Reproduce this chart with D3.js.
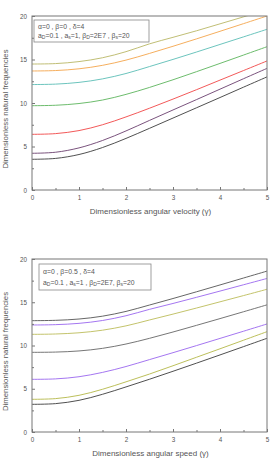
<!DOCTYPE html>
<html>
<head>
<meta charset="utf-8">
<script src="https://cdn.jsdelivr.net/npm/d3@7"></script>
<style>
  body { margin: 0; background: #fff; }
  svg { display: block; font-family: "Liberation Sans", Arial, sans-serif; }
</style>
</head>
<body>
<svg id="chart" width="276" height="459"></svg>
<script>
// gamma values shared by every curve
const gamma = [0, 0.5, 1, 1.5, 2, 2.5, 3, 3.5, 4, 4.5, 5];

// upper panel: alpha=0, beta=0, delta=4
const topOlive  = [14.48, 14.53, 14.76, 15.2, 15.9, 16.8, 17.55, 18.3, 19.1, 19.9, 20.7];
const topOrange = [13.68, 13.73, 13.93, 14.33, 14.93, 15.7, 16.52, 17.37, 18.24, 19.12, 20.0];
const topTeal   = [12.12, 12.17, 12.37, 12.77, 13.39, 14.19, 15.01, 15.86, 16.73, 17.6, 18.47];
const topGreen  = [9.69, 9.74, 9.94, 10.34, 10.99, 11.79, 12.67, 13.6, 14.55, 15.51, 16.47];
const topRed    = [6.4, 6.48, 6.83, 7.5, 8.4, 9.4, 10.45, 11.53, 12.63, 13.73, 14.83];
const topPurple = [4.22, 4.34, 4.84, 5.69, 6.79, 8.0, 9.2, 10.39, 11.59, 12.79, 13.98];
const topBlack  = [3.53, 3.63, 4.08, 4.88, 5.93, 7.09, 8.27, 9.45, 10.63, 11.82, 13.0];

// lower panel: alpha=0, beta=0.5, delta=4
const botBlack1  = [12.87, 12.91, 13.06, 13.39, 13.94, 14.68, 15.43, 16.21, 17.0, 17.8, 18.6];
const botPurple2 = [12.37, 12.41, 12.56, 12.89, 13.44, 14.18, 14.86, 15.57, 16.29, 17.02, 17.75];
const botOlive3  = [11.29, 11.33, 11.47, 11.77, 12.27, 12.95, 13.63, 14.33, 15.05, 15.77, 16.5];
const botGray4   = [9.21, 9.24, 9.37, 9.67, 10.17, 10.83, 11.56, 12.33, 13.11, 13.9, 14.7];
const botPurple5 = [6.09, 6.14, 6.39, 6.89, 7.57, 8.37, 9.17, 9.99, 10.82, 11.65, 12.49];
const botOlive6  = [3.78, 3.86, 4.24, 4.94, 5.8, 6.7, 7.66, 8.64, 9.62, 10.61, 11.6];
const botBlack7  = [3.2, 3.28, 3.66, 4.36, 5.21, 6.1, 7.02, 7.96, 8.91, 9.87, 10.83];

const yTicks = [0, 5, 10, 15, 20];

const topColors = ["#b9b765", "#f4a54c", "#5bbdb5", "#5cb45c", "#f04646", "#6b3f6e", "#3c3c3c"];
const botColors = ["#555555", "#9a66ee", "#bcbc5a", "#666666", "#9a66ee", "#b4b848", "#3c3c3c"];

const panels = [
  { top: 16, bottom: 190, series: [topOlive, topOrange, topTeal, topGreen, topRed, topPurple, topBlack],
    colors: topColors, xTitle: "Dimensionless angular velocity (\u03b3)",
    legend: { x: 34, y: 20, w: 115, h: 22, beta: "0" } },
  { top: 259, bottom: 432, series: [botBlack1, botPurple2, botOlive3, botGray4, botPurple5, botOlive6, botBlack7],
    colors: botColors, xTitle: "Dimensionless angular speed (\u03b3)",
    legend: { x: 39, y: 264, w: 112, h: 26, beta: "0.5" } }
];

const svg = d3.select("#chart");
const left = 32, right = 267;
const textColor = "#555";

const x = d3.scaleLinear().domain([0, 5]).range([left, right]);

panels.forEach((p, pi) => {
  const y = d3.scaleLinear().domain([0, 20]).range([p.bottom, p.top]);
  const g = svg.append("g");

  // clip so curves stop at the frame
  g.append("clipPath").attr("id", "clip" + pi)
    .append("rect").attr("x", left).attr("y", p.top)
    .attr("width", right - left).attr("height", p.bottom - p.top);

  const line = d3.line()
    .x((d, i) => x(gamma[i]))
    .y(d => y(d))
    .curve(d3.curveCatmullRom.alpha(0.5));

  g.append("g").attr("clip-path", "url(#clip" + pi + ")")
    .selectAll("path")
    .data(p.series)
    .join("path")
    .attr("d", line)
    .attr("fill", "none")
    .attr("stroke", (d, i) => p.colors[i])
    .attr("stroke-width", 0.9);

  // frame
  g.append("rect")
    .attr("x", left).attr("y", p.top)
    .attr("width", right - left).attr("height", p.bottom - p.top)
    .attr("fill", "none").attr("stroke", "#777").attr("stroke-width", 1);

  // axes with inward ticks
  const xAxis = g.append("g").attr("transform", "translate(0," + p.bottom + ")")
    .call(d3.axisBottom(x).tickValues(d3.range(0, 5.01, 0.5)).tickSize(-3).tickPadding(6)
      .tickFormat(d => Number.isInteger(d) ? d : ""));
  xAxis.selectAll(".tick line").attr("y2", d => Number.isInteger(d) ? -3 : -2);

  const yAxis = g.append("g").attr("transform", "translate(" + left + ",0)")
    .call(d3.axisLeft(y).tickValues(d3.range(0, 20.01, 2.5)).tickSize(-3).tickPadding(5)
      .tickFormat(d => yTicks.includes(d) ? d : ""));
  yAxis.selectAll(".tick line").attr("x2", d => yTicks.includes(d) ? 3 : 2);

  [xAxis, yAxis].forEach(a => {
    a.select(".domain").remove();
    a.selectAll(".tick line").attr("stroke", "#777");
    a.selectAll("text").attr("fill", textColor).style("font-size", "6.3px");
  });

  // titles
  g.append("text")
    .attr("x", (left + right) / 2 + 1).attr("y", p.bottom + 23.5)
    .attr("text-anchor", "middle").attr("fill", textColor)
    .style("font-size", "8px").text(p.xTitle);

  g.append("text")
    .attr("transform", "translate(8," + ((p.top + p.bottom) / 2 + 6) + ") rotate(-90)")
    .attr("text-anchor", "middle").attr("fill", textColor)
    .style("font-size", "7.8px").text("Dimensionless natural frequencies");

  // legend box
  const L = p.legend;
  g.append("rect").attr("x", L.x).attr("y", L.y).attr("width", L.w).attr("height", L.h)
    .attr("fill", "#fff").attr("stroke", "#888").attr("stroke-width", 0.8);

  g.append("text").attr("x", L.x + 4).attr("y", L.y + L.h * 0.4)
    .attr("fill", textColor).style("font-size", "6.8px")
    .text("\u03b1=0 , \u03b2=" + L.beta + " , \u03b4=4");

  const t2 = g.append("text").attr("x", L.x + 4).attr("y", L.y + L.h * 0.8)
    .attr("fill", textColor).style("font-size", "6.8px");
  const parts = pi === 0
    ? [["a", "D", "=0.1 , "], ["a", "s", "=1, "], ["\u03b2", "D", "=2E7 , "], ["\u03b2", "s", "=20"]]
    : [["a", "D", "=0.1 , "], ["a", "s", "=1 , "], ["\u03b2", "D", "=2E7, "], ["\u03b2", "s", "=20"]];
  parts.forEach(pt => {
    t2.append("tspan").text(pt[0]);
    t2.append("tspan").attr("dy", 1.6).style("font-size", "5px").text(pt[1]);
    t2.append("tspan").attr("dy", -1.6).text(pt[2]);
  });
});
</script>
</body>
</html>
